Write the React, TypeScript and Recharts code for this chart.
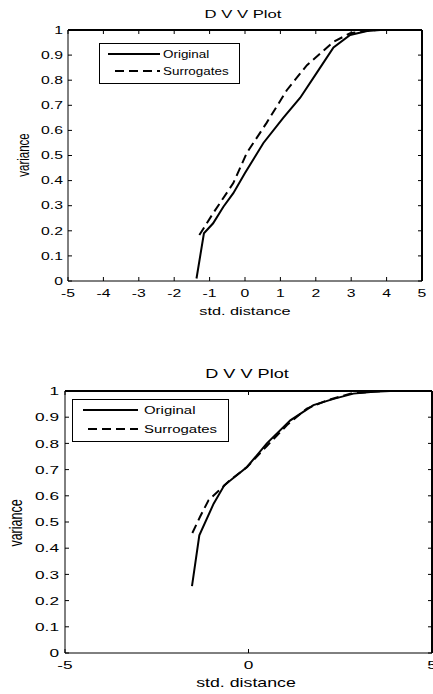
import { Label, Legend, Line, LineChart, ReferenceLine, XAxis, YAxis } from "recharts"

// upper panel
const topOriginalStd = [-1.37, -1.16, -0.9, -0.61, -0.33, 0, 0.52, 1.08, 1.56, 2.03, 2.5, 2.97, 3.45, 3.82]
const topOriginalVar = [0.01, 0.19, 0.23, 0.296, 0.35, 0.43, 0.55, 0.65, 0.73, 0.83, 0.93, 0.98, 0.996, 1.0]
const topSurrogateStd = [-1.29, -0.9, -0.33, 0.05, 0.61, 1.18, 1.75, 2.5, 2.97, 3.45, 3.7]
const topSurrogateVar = [0.183, 0.27, 0.39, 0.51, 0.63, 0.76, 0.86, 0.953, 0.987, 0.997, 1.0]

// lower panel
const bottomOriginalStd = [-1.54, -1.34, -0.95, -0.66, -0.04, 0.5, 1.14, 1.77, 2.32, 2.86, 3.41, 3.86]
const bottomOriginalVar = [0.255, 0.449, 0.57, 0.64, 0.71, 0.8, 0.888, 0.946, 0.97, 0.99, 0.997, 1.0]
const bottomSurrogateStd = [-1.53, -1.32, -1.09, -0.82, -0.5, -0.04, 0.5, 1.05, 1.59, 2.14, 2.77, 3.23, 3.68]
const bottomSurrogateVar = [0.458, 0.52, 0.583, 0.618, 0.66, 0.71, 0.79, 0.87, 0.933, 0.964, 0.99, 0.996, 1.0]

const xTicksTop = [-5, -4, -3, -2, -1, 0, 1, 2, 3, 4, 5]
const xTicksBottom = [-5, 0, 5]
const yTicks = [0, 0.1, 0.2, 0.3, 0.4, 0.5, 0.6, 0.7, 0.8, 0.9, 1]

const seriesNames = ["Original", "Surrogates"]
const title = "D V V Plot"
const xLabel = "std. distance"
const yLabel = "variance"

const toPoints = (std: number[], v: number[]) => std.map((d, i) => ({ d, v: v[i] }))

const FONT = "'Liberation Sans', Arial, sans-serif"
const DASH = "9 5"

type PanelProps = {
  width: number
  height: number
  margin: { top: number; right: number; bottom: number }
  yAxisWidth: number
  xTicks: number[]
  original: { d: number; v: number }[]
  surrogates: { d: number; v: number }[]
  fs: number
  sx: number
  yGap: number
  titlePos: [number, number]
  xLabelPos: [number, number]
  yLabelPos: [number, number]
  legend: { left: number; top: number; w: number; h: number; y1: number; y2: number; solidX: number; dashX: number; lineEnd: number; textX: number; sx: number }
}

function Panel(p: PanelProps) {
  const { fs, sx } = p
  const plotTop = p.margin.top
  const plotRight = p.width - p.margin.right

  // MATLAB-style inward ticks, mirrored onto the opposite edge
  const BottomTick = (t: any) => (
    <g>
      <line x1={t.x} y1={t.y} x2={t.x} y2={t.y - 4} stroke="#000" />
      <line x1={t.x} y1={plotTop} x2={t.x} y2={plotTop + 4} stroke="#000" />
      <text transform={`translate(${t.x},${t.y + 16.3}) scale(${sx},1)`} textAnchor="middle" fontSize={fs} fontFamily={FONT} fill="#000">
        {t.payload.value}
      </text>
    </g>
  )
  const LeftTick = (t: any) => (
    <g>
      <line x1={t.x} y1={t.y} x2={t.x + 4} y2={t.y} stroke="#000" />
      <line x1={plotRight} y1={t.y} x2={plotRight - 4} y2={t.y} stroke="#000" />
      <text transform={`translate(${t.x - p.yGap},${t.y}) scale(${sx},1)`} dy="0.36em" textAnchor="end" fontSize={fs} fontFamily={FONT} fill="#000">
        {t.payload.value}
      </text>
    </g>
  )

  const lg = p.legend
  const LegendBox = () => (
    <svg width={lg.w + 1} height={lg.h + 1} style={{ display: "block" }}>
      <rect x={0.5} y={0.5} width={lg.w} height={lg.h} fill="#fff" stroke="#000" />
      <line x1={lg.solidX} y1={lg.y1} x2={lg.lineEnd} y2={lg.y1} stroke="#000" strokeWidth={2} />
      <line x1={lg.dashX} y1={lg.y2} x2={lg.lineEnd} y2={lg.y2} stroke="#000" strokeWidth={2} strokeDasharray={DASH} />
      <text transform={`translate(${lg.textX},${lg.y1}) scale(${lg.sx},1)`} dy="0.36em" fontSize={fs} fontFamily={FONT} fill="#000">
        {seriesNames[0]}
      </text>
      <text transform={`translate(${lg.textX},${lg.y2}) scale(${lg.sx},1)`} dy="0.36em" fontSize={fs} fontFamily={FONT} fill="#000">
        {seriesNames[1]}
      </text>
    </svg>
  )

  return (
    <LineChart width={p.width} height={p.height} margin={{ top: p.margin.top, right: p.margin.right, bottom: p.margin.bottom, left: 0 }}>
      <XAxis
        dataKey="d"
        type="number"
        domain={[-5, 5]}
        ticks={p.xTicks}
        interval={0}
        height={30}
        tickSize={0}
        tickMargin={0}
        tick={<BottomTick />}
        tickLine={false}
        axisLine={{ stroke: "#000" }}
      >
        <Label
          content={() => (
            <g>
              <text transform={`translate(${p.xLabelPos[0]},${p.xLabelPos[1]}) scale(1.48,1)`} dy="0.36em" textAnchor="middle" fontSize={fs + 0.5} fontFamily={FONT} fill="#000">
                {xLabel}
              </text>
              <text transform={`translate(${p.titlePos[0]},${p.titlePos[1]}) scale(1.45,1)`} dy="0.36em" textAnchor="middle" fontSize={fs + 1} fontFamily={FONT} fill="#000">
                {title}
              </text>
            </g>
          )}
        />
      </XAxis>
      <YAxis
        type="number"
        domain={[0, 1]}
        ticks={yTicks}
        interval={0}
        width={p.yAxisWidth}
        tickSize={0}
        tickMargin={0}
        tick={<LeftTick />}
        tickLine={false}
        axisLine={{ stroke: "#000" }}
      >
        <Label
          content={() => (
            <text transform={`translate(${p.yLabelPos[0]},${p.yLabelPos[1]}) scale(1.5,1) rotate(-90)`} dy="0.36em" textAnchor="middle" fontSize={fs + 1} fontFamily={FONT} fill="#000">
              {yLabel}
            </text>
          )}
        />
      </YAxis>
      {/* top and right edges of the box (half of the stroke is clipped to the plot area) */}
      <ReferenceLine y={1} stroke="#000" strokeWidth={2} ifOverflow="visible" />
      <ReferenceLine x={5} stroke="#000" strokeWidth={2} ifOverflow="visible" />
      <Legend
        layout="horizontal"
        verticalAlign="middle"
        align="center"
        content={() => <LegendBox />}
        wrapperStyle={{ left: lg.left, top: lg.top, width: lg.w + 1, height: lg.h + 1 }}
      />
      <Line data={p.original} dataKey="v" name={seriesNames[0]} type="linear" stroke="#000" strokeWidth={2} dot={false} isAnimationActive={false} />
      <Line data={p.surrogates} dataKey="v" name={seriesNames[1]} type="linear" stroke="#000" strokeWidth={2} strokeDasharray={DASH} dot={false} isAnimationActive={false} />
    </LineChart>
  )
}

export default function App() {
  return (
    <div style={{ position: "absolute", left: 0, top: 0, width: 433, height: 694, background: "#fff", overflow: "hidden" }}>
      <div style={{ position: "absolute", left: 0, top: 0 }}>
        <Panel
          width={433}
          height={330}
          margin={{ top: 30, right: 11, bottom: 19 }}
          yAxisWidth={68}
          xTicks={xTicksTop}
          original={toPoints(topOriginalStd, topOriginalVar)}
          surrogates={toPoints(topSurrogateStd, topSurrogateVar)}
          fs={10.5}
          sx={1.5}
          yGap={5}
          titlePos={[243, 14]}
          xLabelPos={[245, 311]}
          yLabelPos={[23, 155]}
          legend={{ left: 99, top: 43, w: 140, h: 40, y1: 11, y2: 28, solidX: 9, dashX: 16, lineEnd: 61, textX: 64, sx: 1.28 }}
        />
      </div>
      <div style={{ position: "absolute", left: 0, top: 330 }}>
        <Panel
          width={433}
          height={364}
          margin={{ top: 61, right: 1, bottom: 11 }}
          yAxisWidth={65}
          xTicks={xTicksBottom}
          original={toPoints(bottomOriginalStd, bottomOriginalVar)}
          surrogates={toPoints(bottomSurrogateStd, bottomSurrogateVar)}
          fs={11.5}
          sx={1.5}
          yGap={6}
          titlePos={[247, 43]}
          xLabelPos={[246, 353]}
          yLabelPos={[15, 193]}
          legend={{ left: 72, top: 69, w: 156, h: 42, y1: 11, y2: 30, solidX: 11, dashX: 16, lineEnd: 66, textX: 72, sx: 1.3 }}
        />
      </div>
    </div>
  )
}
